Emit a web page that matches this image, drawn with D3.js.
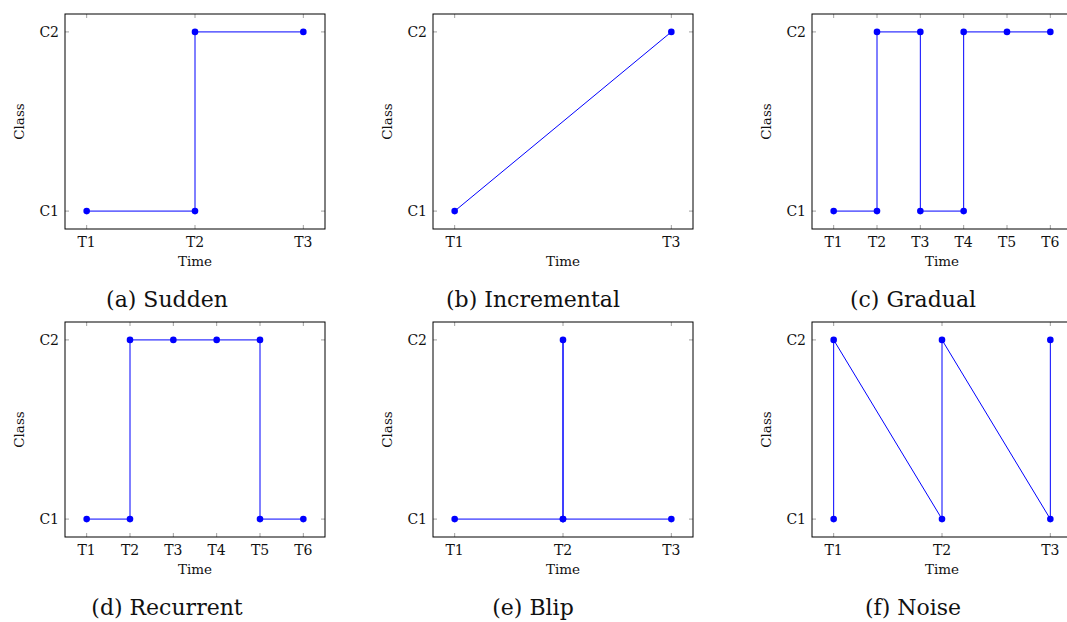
<!DOCTYPE html>
<html>
<head>
  <meta charset="utf-8">
  <title>Concept drift types</title>
  <script src="https://d3js.org/d3.v7.min.js"></script>
  <style>
    body { margin: 0; background: #fff; }
    svg text { font-family: "DejaVu Serif", serif; fill: #111; }
  </style>
</head>
<body>
  <svg id="chart" width="1067" height="622"></svg>
  <script>
    // class labels on the y axis (C1 = 1, C2 = 2)
    var classLabels = ["C1", "C2"];

    // time index / class index for each panel
    var suddenT = [1, 2, 2, 3];
    var suddenC = [1, 1, 2, 2];

    var incrementalT = [1, 3];
    var incrementalC = [1, 2];

    var gradualT = [1, 2, 2, 3, 3, 4, 4, 5, 6];
    var gradualC = [1, 1, 2, 2, 1, 1, 2, 2, 2];

    var recurrentT = [1, 2, 2, 3, 4, 5, 5, 6];
    var recurrentC = [1, 1, 2, 2, 2, 2, 1, 1];

    var blipT = [1, 2, 2, 2, 3];
    var blipC = [1, 1, 2, 1, 1];

    var noiseT = [1, 1, 2, 2, 3, 3];
    var noiseC = [1, 2, 1, 2, 1, 2];

    var ticks3 = ["T1", "T2", "T3"];
    var ticks13 = ["T1", "T3"];
    var ticks6 = ["T1", "T2", "T3", "T4", "T5", "T6"];

    var panels = [
      { cap: "(a) Sudden", t: suddenT, c: suddenC, ticks: ticks3, n: 3, col: 0, row: 0 },
      { cap: "(b) Incremental", t: incrementalT, c: incrementalC, ticks: ticks13, n: 3, col: 1, row: 0 },
      { cap: "(c) Gradual", t: gradualT, c: gradualC, ticks: ticks6, n: 6, col: 2, row: 0 },
      { cap: "(d) Recurrent", t: recurrentT, c: recurrentC, ticks: ticks6, n: 6, col: 0, row: 1 },
      { cap: "(e) Blip", t: blipT, c: blipC, ticks: ticks3, n: 3, col: 1, row: 1 },
      { cap: "(f) Noise", t: noiseT, c: noiseC, ticks: ticks3, n: 3, col: 2, row: 1 }
    ];

    var lefts = [65, 433, 812];
    var tops = [14, 322];
    var capX = [167, 533, 913];
    var W = 260, H = 215;

    var svg = d3.select("#chart");

    panels.forEach(function (p) {
      var g = svg.append("g")
        .attr("transform", "translate(" + lefts[p.col] + "," + tops[p.row] + ")");

      // padding around the data like pgfplots enlarge limits
      var pad = p.n === 3 ? 0.2 : 0.5;
      var x = d3.scaleLinear().domain([1 - pad, p.n + pad]).range([0, W]);
      var y = d3.scaleLinear().domain([0.9, 2.1]).range([H, 0]);

      var tickVals = p.ticks.map(function (d) { return +d.slice(1); });

      // inner ticks, on all four sides
      var tk = g.append("g").attr("stroke", "#888").attr("stroke-width", 0.8);
      tickVals.forEach(function (v) {
        tk.append("line").attr("x1", x(v)).attr("x2", x(v)).attr("y1", H).attr("y2", H - 4);
        tk.append("line").attr("x1", x(v)).attr("x2", x(v)).attr("y1", 0).attr("y2", 4);
      });
      [1, 2].forEach(function (v) {
        tk.append("line").attr("x1", 0).attr("x2", 4).attr("y1", y(v)).attr("y2", y(v));
        tk.append("line").attr("x1", W).attr("x2", W - 4).attr("y1", y(v)).attr("y2", y(v));
      });

      // tick labels
      g.selectAll(".xt").data(p.ticks).join("text")
        .attr("class", "xt")
        .attr("x", function (d) { return x(+d.slice(1)); })
        .attr("y", H + 18)
        .attr("text-anchor", "middle")
        .attr("font-size", 14)
        .text(function (d) { return d; });

      g.selectAll(".yt").data(classLabels).join("text")
        .attr("class", "yt")
        .attr("x", -6)
        .attr("y", function (d, i) { return y(i + 1) + 5; })
        .attr("text-anchor", "end")
        .attr("font-size", 14)
        .text(function (d) { return d; });

      // axis titles
      g.append("text")
        .attr("x", W / 2).attr("y", H + 37)
        .attr("text-anchor", "middle")
        .attr("font-size", 13.5)
        .text("Time");

      g.append("text")
        .attr("transform", "translate(-41," + (H / 2) + ") rotate(-90)")
        .attr("text-anchor", "middle")
        .attr("font-size", 13.5)
        .text("Class");

      // data line + markers
      var pts = p.t.map(function (t, i) { return [t, p.c[i]]; });
      var line = d3.line().x(function (d) { return x(d[0]); }).y(function (d) { return y(d[1]); });

      g.append("path")
        .attr("d", line(pts))
        .attr("fill", "none")
        .attr("stroke", "#0000ff")
        .attr("stroke-width", 1);

      g.selectAll(".pt").data(pts).join("circle")
        .attr("class", "pt")
        .attr("cx", function (d) { return x(d[0]); })
        .attr("cy", function (d) { return y(d[1]); })
        .attr("r", 3.3)
        .attr("fill", "#0000ff");

      // frame
      g.append("rect")
        .attr("width", W).attr("height", H)
        .attr("fill", "none")
        .attr("stroke", "#000")
        .attr("stroke-width", 1);

      // caption
      svg.append("text")
        .attr("x", capX[p.col])
        .attr("y", tops[p.row] + 293)
        .attr("text-anchor", "middle")
        .attr("font-size", 22)
        .text(p.cap);
    });
  </script>
</body>
</html>
